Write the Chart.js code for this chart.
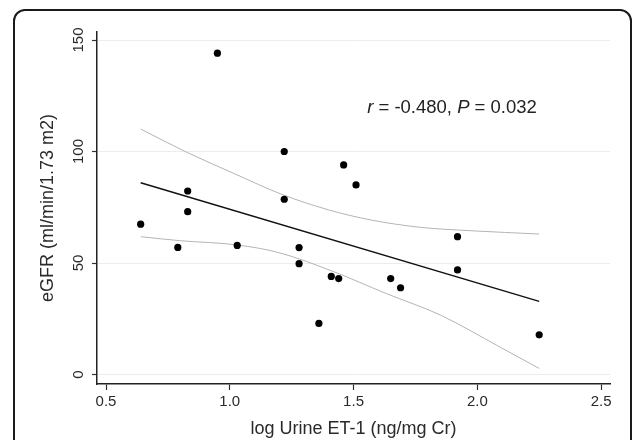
<!DOCTYPE html>
<html>
<head>
<meta charset="utf-8">
<script src="https://cdn.jsdelivr.net/npm/chart.js@4.4.1/dist/chart.umd.min.js"></script>
<style>
  html, body { margin: 0; padding: 0; background: #fff; overflow: hidden; }
  #wrap { position: relative; width: 633px; height: 440px; }
  #frame {
    position: absolute; left: 13px; top: 9px; width: 619px; height: 600px;
    box-sizing: border-box; border: 2px solid #1a1a1a; border-radius: 12px;
    pointer-events: none;
  }
</style>
</head>
<body>
<div id="wrap">
  <canvas id="chart"></canvas>
  <div id="frame"></div>
</div>
<script>
// points
const etX = [0.64, 0.79, 0.83, 0.83, 0.95, 1.03, 1.22, 1.22, 1.28, 1.28,
             1.36, 1.41, 1.44, 1.46, 1.51, 1.65, 1.69, 1.92, 1.92, 2.25];
const gfrY = [67.4, 57.0, 82.3, 73.0, 144.1, 57.9, 100.0, 78.6, 56.9, 49.7,
              22.9, 44.0, 43.0, 94.0, 85.0, 43.0, 38.9, 61.8, 46.9, 17.8];

// fitted line end points
const fitX = [0.64, 2.25];
const fitY = [86.0, 32.8];

// confidence band, read at several x
const upperX = [0.64, 0.82, 1.02, 1.21, 1.4, 1.57, 1.77, 1.97, 2.25];
const upperY = [110.1, 100.0, 90.0, 80.8, 73.8, 69.3, 66.0, 64.5, 63.0];
const lowerX = [0.64, 0.8, 1.03, 1.2, 1.42, 1.63, 1.85, 2.09, 2.25];
const lowerY = [61.8, 60.0, 58.1, 54.6, 46.1, 36.4, 26.7, 12.4, 2.7];

const xTicks = [0.5, 1.0, 1.5, 2.0, 2.5];
const yTicks = [0, 50, 100, 150];

const toXY = (xs, ys) => xs.map((x, i) => ({ x: x, y: ys[i] }));

const statsText = [
  { t: 'r', italic: true },
  { t: ' = -0.480, ', italic: false },
  { t: 'P', italic: true },
  { t: ' = 0.032', italic: false }
];

const statsLabel = {
  id: 'statsLabel',
  afterDatasetsDraw(chart) {
    const ctx = chart.ctx;
    let x = chart.scales.x.getPixelForValue(1.555);
    const y = chart.scales.y.getPixelForValue(119.5);
    ctx.save();
    ctx.fillStyle = '#222';
    ctx.textBaseline = 'middle';
    ctx.textAlign = 'left';
    statsText.forEach(p => {
      ctx.font = (p.italic ? 'italic ' : '') + '18.5px "Liberation Sans", Arial, sans-serif';
      ctx.fillText(p.t, x, y);
      x += ctx.measureText(p.t).width;
    });
    ctx.restore();
  }
};

const axisFont = { family: '"Liberation Sans", Arial, sans-serif', size: 18 };
const tickFont = { family: '"Liberation Sans", Arial, sans-serif', size: 15 };

new Chart(document.getElementById('chart'), {
  type: 'scatter',
  data: {
    datasets: [
      {
        label: 'upper',
        data: toXY(upperX, upperY),
        showLine: true, borderColor: '#b4b4b4', borderWidth: 1,
        pointRadius: 0, cubicInterpolationMode: 'monotone', order: 3
      },
      {
        label: 'lower',
        data: toXY(lowerX, lowerY),
        showLine: true, borderColor: '#b4b4b4', borderWidth: 1,
        pointRadius: 0, cubicInterpolationMode: 'monotone', order: 3
      },
      {
        label: 'fit',
        data: toXY(fitX, fitY),
        showLine: true, borderColor: '#111', borderWidth: 1.4,
        pointRadius: 0, order: 2
      },
      {
        label: 'eGFR',
        data: toXY(etX, gfrY),
        backgroundColor: '#000', borderColor: '#000',
        pointRadius: 3.6, borderWidth: 0, order: 1
      }
    ]
  },
  options: {
    responsive: true,
    maintainAspectRatio: false,
    animation: false,
    layout: { padding: { left: 0, top: 32, right: 23, bottom: 0 } },
    plugins: {
      legend: { display: false },
      tooltip: { enabled: false }
    },
    scales: {
      x: {
        type: 'linear',
        min: 0.4636, max: 2.536,
        afterBuildTicks: s => { s.ticks = xTicks.map(v => ({ value: v })); },
        afterFit: s => { s.height = 56; },
        grid: { drawOnChartArea: false, drawTicks: true, tickLength: 6, tickColor: '#333', tickWidth: 1.2 },
        border: { color: '#222', width: 1.5 },
        ticks: {
          color: '#2a2a2a', font: tickFont, padding: 3, maxRotation: 0,
          callback: v => v.toFixed(1)
        },
        title: {
          display: true, text: 'log Urine ET-1 (ng/mg Cr)',
          color: '#2a2a2a', font: axisFont, padding: { top: 0, bottom: 0 }
        }
      },
      y: {
        type: 'linear',
        min: -4.26, max: 153.6,
        afterBuildTicks: s => { s.ticks = yTicks.map(v => ({ value: v })); },
        afterFit: s => { s.width = 97; },
        grid: { color: '#ececec', lineWidth: 1, drawTicks: true, tickLength: 5, tickColor: '#333', tickWidth: 1.2 },
        border: { color: '#222', width: 1.5 },
        ticks: {
          color: '#2a2a2a', font: tickFont, padding: 1,
          minRotation: 90, maxRotation: 90, crossAlign: 'center',
          callback: v => String(v)
        },
        title: {
          display: true, text: 'eGFR (ml/min/1.73 m2)',
          color: '#2a2a2a', font: axisFont, padding: { top: 37, bottom: 0 }
        }
      }
    }
  },
  plugins: [statsLabel]
});

document.getElementById('chart').parentNode.style.height = '440px';
</script>
</body>
</html>
